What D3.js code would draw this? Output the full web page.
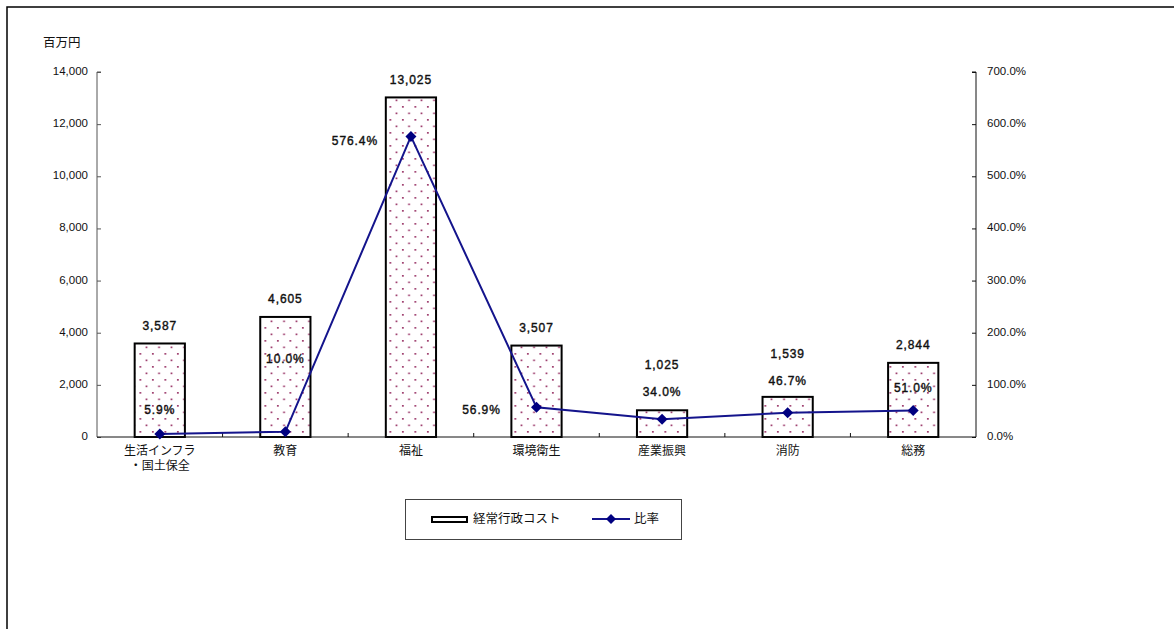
<!DOCTYPE html>
<html>
<head>
<meta charset="utf-8">
<script src="https://cdn.jsdelivr.net/npm/d3@7"></script>
<style>
  html, body { margin: 0; padding: 0; background: #fff; }
  svg { display: block; }
</style>
</head>
<body>
<svg id="chart" width="1174" height="629"></svg>
<script>
// 行政目的別 経常行政コスト（百万円）と比率
const categories = [
  ["生活インフラ", "・国土保全"],
  ["教育"],
  ["福祉"],
  ["環境衛生"],
  ["産業振興"],
  ["消防"],
  ["総務"]
];
const costValues = [3587, 4605, 13025, 3507, 1025, 1539, 2844];
const ratioValues = [5.9, 10.0, 576.4, 56.9, 34.0, 46.7, 51.0];
const costTicks = [0, 2000, 4000, 6000, 8000, 10000, 12000, 14000];
const ratioTicks = [0, 100, 200, 300, 400, 500, 600, 700];
const unitLabel = "百万円";
const legendLabels = ["経常行政コスト", "比率"];

// ratio label placement relative to its marker: [dx, dy]
const ratioLabelShift = [[0, -23], [0, -72], [-56, 5], [-55, 3], [0, -26], [0, -31], [0, -22]];

const svg = d3.select("#chart");
const jpFont = "'Noto Sans CJK JP', sans-serif";
const numFont = "'Liberation Sans', Arial, sans-serif";

const plot = { left: 97, right: 976, top: 72, bottom: 437 };

const x = d3.scaleBand()
  .domain(d3.range(categories.length))
  .range([plot.left, plot.right])
  .paddingInner(0.6)
  .paddingOuter(0.3);
const step = x.step();
const cx = i => x(i) + x.bandwidth() / 2;

const y = d3.scaleLinear().domain([0, 14000]).range([plot.bottom, plot.top]);
const y2 = d3.scaleLinear().domain([0, 700]).range([plot.bottom, plot.top]);

// outer frame (top and left edges)
svg.append("path")
  .attr("d", "M7,629 L7,7 L1174,7")
  .attr("fill", "none")
  .attr("stroke", "#000")
  .attr("stroke-width", 1.5);

// dot pattern for the bars
const defs = svg.append("defs");
const pat = defs.append("pattern")
  .attr("id", "dots")
  .attr("patternUnits", "userSpaceOnUse")
  .attr("width", 12.5)
  .attr("height", 13)
  .attr("x", 0).attr("y", 0);
pat.append("rect").attr("width", 12.5).attr("height", 13).attr("fill", "#fff");
pat.append("rect").attr("x", 2).attr("y", 2).attr("width", 1.7).attr("height", 1.7).attr("fill", "#993366");
pat.append("rect").attr("x", 8.2).attr("y", 8.5).attr("width", 1.7).attr("height", 1.7).attr("fill", "#993366");

// unit label
svg.append("text")
  .attr("x", 43).attr("y", 44)
  .attr("dominant-baseline", "middle")
  .attr("font-family", jpFont)
  .attr("font-size", 12.5)
  .attr("fill", "#111")
  .text(unitLabel);

// left axis
const leftAxis = svg.append("g")
  .attr("transform", `translate(${plot.left},0)`)
  .call(d3.axisRight(y).tickValues(costTicks).tickSize(4).tickFormat(""));
leftAxis.select(".domain").attr("stroke", "#555").attr("d", `M4,${plot.top}H0V${plot.bottom}`);
leftAxis.selectAll(".tick line").attr("stroke", "#555");
svg.append("g").selectAll("text")
  .data(costTicks)
  .join("text")
  .attr("x", 88)
  .attr("y", d => y(d))
  .attr("text-anchor", "end")
  .attr("dominant-baseline", "middle")
  .attr("font-family", numFont)
  .attr("font-size", 11.5)
  .attr("fill", "#111")
  .text(d => d3.format(",")(d));

// right axis
const rightAxis = svg.append("g")
  .attr("transform", `translate(${plot.right},0)`)
  .call(d3.axisLeft(y2).tickValues(ratioTicks).tickSize(4).tickFormat(""));
rightAxis.select(".domain").attr("stroke", "#111").attr("d", `M-4,${plot.top}H0V${plot.bottom}`);
rightAxis.selectAll(".tick line").attr("stroke", "#111");
svg.append("g").selectAll("text")
  .data(ratioTicks)
  .join("text")
  .attr("x", 987)
  .attr("y", d => y2(d))
  .attr("dominant-baseline", "middle")
  .attr("font-family", numFont)
  .attr("font-size", 11.5)
  .attr("fill", "#111")
  .text(d => d.toFixed(1) + "%");

// bars
svg.append("g").selectAll("rect")
  .data(costValues)
  .join("rect")
  .attr("x", (d, i) => x(i))
  .attr("y", d => y(d))
  .attr("width", x.bandwidth())
  .attr("height", d => y(0) - y(d))
  .attr("fill", "url(#dots)")
  .attr("stroke", "#000")
  .attr("stroke-width", 2);

// bottom axis with ticks between categories
const xBoundaries = d3.range(categories.length + 1).map(i => plot.left + i * step);
svg.append("line")
  .attr("x1", plot.left).attr("x2", plot.right)
  .attr("y1", plot.bottom).attr("y2", plot.bottom)
  .attr("stroke", "#111");
svg.append("g").selectAll("line")
  .data(xBoundaries.slice(1, -1))
  .join("line")
  .attr("x1", d => d).attr("x2", d => d)
  .attr("y1", plot.bottom).attr("y2", plot.bottom - 4)
  .attr("stroke", "#111");

// category labels
const catG = svg.append("g");
categories.forEach((lines, i) => {
  lines.forEach((ln, j) => {
    catG.append("text")
      .attr("x", cx(i))
      .attr("y", 452 + j * 15)
      .attr("text-anchor", "middle")
      .attr("dominant-baseline", "middle")
      .attr("font-family", jpFont)
      .attr("font-size", 12)
      .attr("fill", "#111")
      .text(ln);
  });
});

// ratio line and markers
const line = d3.line().x((d, i) => cx(i)).y(d => y2(d));
svg.append("path")
  .datum(ratioValues)
  .attr("d", line)
  .attr("fill", "none")
  .attr("stroke", "#14148c")
  .attr("stroke-width", 2);

const diamond = (px, py, r) => `M${px},${py - r}L${px + r},${py}L${px},${py + r}L${px - r},${py}Z`;
svg.append("g").selectAll("path")
  .data(ratioValues)
  .join("path")
  .attr("d", (d, i) => diamond(cx(i), y2(d), 5.5))
  .attr("fill", "#000080");

// shared look for the data labels
const dataLabel = sel => sel
  .attr("text-anchor", "middle")
  .attr("dominant-baseline", "middle")
  .attr("font-family", numFont)
  .attr("font-size", 12)
  .attr("letter-spacing", 0.9)
  .attr("fill", "#111")
  .attr("stroke", "#111")
  .attr("stroke-width", 0.4);

// ratio labels
const ratioLabelY = ratioValues.map((d, i) => y2(d) + ratioLabelShift[i][1]);
svg.append("g").selectAll("text")
  .data(ratioValues)
  .join("text")
  .attr("x", (d, i) => cx(i) + ratioLabelShift[i][0])
  .attr("y", (d, i) => ratioLabelY[i])
  .call(dataLabel)
  .text(d => d.toFixed(1) + "%");

// value labels above bars, lifted clear of the ratio labels
svg.append("g").selectAll("text")
  .data(costValues)
  .join("text")
  .attr("x", (d, i) => cx(i))
  .attr("y", (d, i) => {
    const top = y(d) - 17;
    const shift = ratioLabelShift[i][0] === 0 ? ratioLabelY[i] - 27 : Infinity;
    return Math.min(top, shift);
  })
  .call(dataLabel)
  .text(d => d3.format(",")(d));

// legend
const lg = svg.append("g");
lg.append("rect")
  .attr("x", 405.5).attr("y", 499.5)
  .attr("width", 276).attr("height", 40)
  .attr("fill", "#fff")
  .attr("stroke", "#444")
  .attr("stroke-width", 1);
lg.append("rect")
  .attr("x", 432).attr("y", 517)
  .attr("width", 35).attr("height", 5)
  .attr("fill", "url(#dots)")
  .attr("stroke", "#000")
  .attr("stroke-width", 2);
lg.append("text")
  .attr("x", 473).attr("y", 520)
  .attr("dominant-baseline", "middle")
  .attr("font-family", jpFont)
  .attr("font-size", 12.5)
  .attr("fill", "#111")
  .text(legendLabels[0]);
lg.append("line")
  .attr("x1", 592).attr("x2", 630)
  .attr("y1", 519).attr("y2", 519)
  .attr("stroke", "#14148c")
  .attr("stroke-width", 2);
lg.append("path")
  .attr("d", diamond(611, 519, 5))
  .attr("fill", "#000080");
lg.append("text")
  .attr("x", 634).attr("y", 520)
  .attr("dominant-baseline", "middle")
  .attr("font-family", jpFont)
  .attr("font-size", 12.5)
  .attr("fill", "#111")
  .text(legendLabels[1]);
</script>
</body>
</html>
